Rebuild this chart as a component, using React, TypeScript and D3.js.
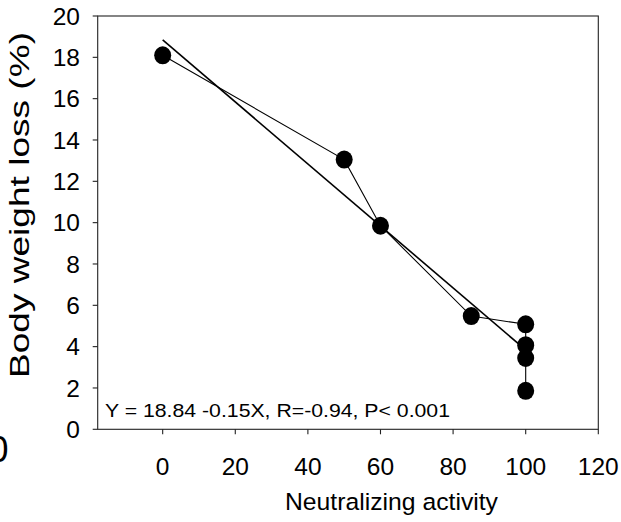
import React from "react";
import * as d3 from "d3";

const xValues = [0, 50, 60, 85, 100, 100, 100, 100];
const yValues = [18.1, 13.05, 9.85, 5.48, 5.08, 4.07, 3.45, 1.86];
const xTicks = [0, 20, 40, 60, 80, 100, 120];
const yTicks = [0, 2, 4, 6, 8, 10, 12, 14, 16, 18, 20];
const regIntercept = 18.84;
const regSlope = -0.15;
const regRange = [0, 100];
const equationLabel = "Y = 18.84 -0.15X, R=-0.94, P< 0.001";
const xTitle = "Neutralizing activity";
const yTitle = "Body weight loss (%)";

const W = 621;
const H = 522;
const left = 97.7;
const right = 598.3;
const top = 16;
const bottom = 429.3;

export default function App() {
  const x = d3.scaleLinear().domain([-17.9, 120]).range([left, right]);
  const y = d3.scaleLinear().domain([0, 20]).range([bottom, top]);
  const pts = xValues.map((v, i) => [v, yValues[i]] as [number, number]);
  const line = d3
    .line<[number, number]>()
    .x((d) => x(d[0]))
    .y((d) => y(d[1]));
  const reg: [number, number][] = regRange.map((v) => [v, regIntercept + regSlope * v]);
  const font = "'Liberation Sans', Arial, sans-serif";
  const axisColor = "#222";
  return (
    <svg
      width={W}
      height={H}
      style={{ position: "fixed", left: 0, top: 0, background: "#fff" }}
      fontFamily={font}
    >
      <rect x={0} y={0} width={W} height={H} fill="#fff" />
      {/* frame */}
      <rect x={left} y={top} width={right - left} height={bottom - top} fill="none" stroke={axisColor} strokeWidth={1.1} />
      {/* y ticks */}
      {yTicks.map((t) => (
        <g key={"y" + t}>
          <line x1={left - 5} x2={left} y1={y(t)} y2={y(t)} stroke={axisColor} strokeWidth={1.1} />
          <text x={80} y={y(t)} dy="0.36em" textAnchor="end" fontSize={24.5} fill="#000">
            {t}
          </text>
        </g>
      ))}
      {/* x ticks */}
      {xTicks.map((t) => (
        <g key={"x" + t}>
          <line x1={x(t)} x2={x(t)} y1={bottom} y2={bottom + 5} stroke={axisColor} strokeWidth={1.1} />
          <text x={x(t)} y={475} textAnchor="middle" fontSize={24.5} fill="#000">
            {t}
          </text>
        </g>
      ))}
      {/* regression line */}
      <path d={line(reg) || ""} fill="none" stroke="#000" strokeWidth={1.6} />
      {/* connecting line */}
      <path d={line(pts) || ""} fill="none" stroke="#000" strokeWidth={1.1} />
      {/* points */}
      {pts.map((p, i) => (
        <ellipse key={i} cx={x(p[0])} cy={y(p[1])} rx={8.5} ry={9} fill="#000" />
      ))}
      {/* equation */}
      <text x={105} y={417} fontSize={19} textLength={345} lengthAdjust="spacingAndGlyphs" fill="#000">
        {equationLabel}
      </text>
      {/* axis titles */}
      <text x={(285 + 498) / 2} y={510} textAnchor="middle" fontSize={24.5} textLength={213} lengthAdjust="spacingAndGlyphs" fill="#000">
        {xTitle}
      </text>
      <text
        transform={`translate(28.5, 205) rotate(-90)`}
        textAnchor="middle"
        fontSize={27}
        textLength={346}
        lengthAdjust="spacingAndGlyphs"
        fill="#000"
      >
        {yTitle}
      </text>
      {/* clipped stray label at left edge */}
      <text x={-11.4} y={462} fontSize={36} fill="#000">
        0
      </text>
    </svg>
  );
}
